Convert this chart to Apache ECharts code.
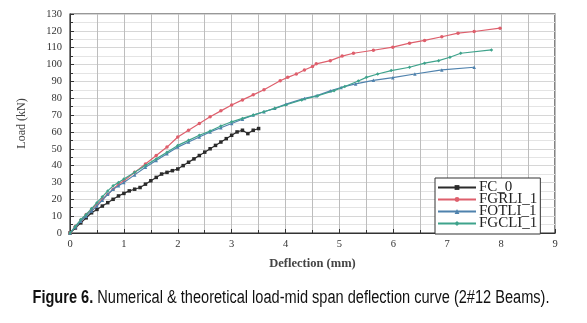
<!DOCTYPE html>
<html><head><meta charset="utf-8">
<script src="https://cdn.jsdelivr.net/npm/echarts@6/dist/echarts.min.js"></script>
<style>html,body{margin:0;padding:0;background:#fff}#c{width:587px;height:323px}</style>
</head><body><div id="c"></div>
<script>
const seriesNames = ["FC_0", "FGRLI_1", "FOTLI_1", "FGCLI_1"];
const xTicks = [0,1,2,3,4,5,6,7,8,9];
const yTicks = [0,10,20,30,40,50,60,70,80,90,100,110,120,130];

const fcX = [0,0.1,0.2,0.3,0.4,0.5,0.6,0.7,0.8,0.9,1.0,1.1,1.2,1.3,1.4,1.5,1.6,1.7,1.8,1.9,2.0,2.1,2.2,2.3,2.4,2.5,2.6,2.7,2.8,2.9,3.0,3.1,3.2,3.3,3.4,3.5];
const fcY = [0,3,6,9,12,14,16,18,20,22,23.5,25,26,27,29,31,33,35,36,37,38,40,42,44,46,48,50,52,54,56,58,60,61,59,61,62];

const grX = [0,0.1,0.2,0.3,0.4,0.5,0.6,0.7,0.8,0.9,1.0,1.2,1.4,1.6,1.8,2.0,2.2,2.4,2.6,2.8,3.0,3.2,3.4,3.6,3.9,4.04,4.2,4.35,4.5,4.57,4.83,5.05,5.26,5.63,5.99,6.3,6.58,6.9,7.2,7.5,7.98];
const grY = [0,4,7.5,11,14,17,20,23,26,29,31,36,41,46,51,57,61,65,69,72.5,76,79,82,85,90.4,92.4,94.4,96.8,98.8,100.4,102.3,105,106.7,108.5,110.3,112.7,114.3,116.5,118.6,119.6,121.6];

const otX = [0,0.1,0.2,0.3,0.4,0.5,0.6,0.7,0.8,0.9,1.0,1.2,1.4,1.6,1.8,2.0,2.2,2.4,2.6,2.8,3.0,3.2,3.4,3.6,3.8,4.01,4.35,4.57,4.83,5.03,5.3,5.63,5.99,6.4,6.9,7.5];
const otY = [0,3.5,7,10,13,16,19.5,23,26,28,30,34.5,39,43,47,51,54,57,60,62.5,65,67.5,70,72,74,76.5,79.9,81.4,84.4,86.4,88.5,90.6,92.2,94.4,96.8,98.4];

const gcX = [0,0.1,0.2,0.3,0.4,0.5,0.6,0.7,0.8,0.9,1.0,1.2,1.4,1.6,1.8,2.0,2.2,2.4,2.6,2.8,3.0,3.2,3.4,3.6,3.8,4.0,4.3,4.6,4.9,5.1,5.35,5.5,5.71,5.96,6.3,6.58,6.84,7.05,7.25,7.82];
const gcY = [0,4,8,11,14.5,18,21.5,25,28,30,32,36,40,44,48,52,55,58,60.5,63.5,66,68,70,72,74,76,79,81.5,84.5,87,90.2,92.4,94.4,96.4,98.4,100.8,102.3,104.3,106.7,108.7];

const captionBold = "Figure 6.";
const captionText = " Numerical & theoretical load-mid span deflection curve (2#12 Beams).";

const zip = (xs, ys) => xs.map((x, i) => [x, ys[i]]);
const colors = ["#2b2b2b", "#de5f6c", "#4f82ad", "#3fa38c"];
const symbols = ["rect", "circle", "triangle", "diamond"];
const dataSets = [zip(fcX, fcY), zip(grX, grY), zip(otX, otY), zip(gcX, gcY)];

const chart = echarts.init(document.getElementById('c'), null, {renderer: 'canvas'});
const serif = "'Liberation Serif','DejaVu Serif',serif";
const sans = "'Liberation Sans','DejaVu Sans',sans-serif";
chart.setOption({
  animation: false,
  backgroundColor: '#fff',
  graphic: [{
    type: 'text', x: 291, y: 298, scaleX: 0.81, scaleY: 1,
    style: {
      text: '{b|' + captionBold + '}{n|' + captionText + '}',
      align: 'center', verticalAlign: 'middle',
      rich: {
        b: {fontFamily: sans, fontWeight: 'bold', fontSize: 18, fill: '#111'},
        n: {fontFamily: sans, fontWeight: 'normal', fontSize: 18, fill: '#111'}
      }
    }
  }],
  grid: {left: 70, right: 32, top: 14, bottom: 90, show: true, borderColor: '#333', borderWidth: 1.2},
  legend: {
    left: 435, top: 178, orient: 'vertical', itemGap: -3,
    backgroundColor: '#fff', borderColor: '#333', borderWidth: 1, padding: [2, 3, 3, 2],
    itemWidth: 38, itemHeight: 6,
    textStyle: {fontFamily: serif, fontSize: 15, color: '#222', padding: [0,0,0,-2]},
    data: seriesNames
  },
  xAxis: {
    type: 'value', min: 0, max: 9, interval: 1,
    name: 'Deflection (mm)', nameLocation: 'middle', nameGap: 24,
    nameTextStyle: {fontFamily: serif, fontWeight: 'bold', fontSize: 12.5, color: '#444'},
    axisLine: {show: true, lineStyle: {color: '#333'}},
    axisTick: {show: true, inside: true, length: 4, lineStyle: {color: '#333'}},
    minorTick: {show: true, splitNumber: 2, length: 3, lineStyle: {color: '#333'}},
    axisLabel: {fontFamily: serif, fontSize: 10.5, color: '#333', margin: 6},
    splitLine: {show: true, lineStyle: {color: '#bdbdbd', width: 1}},
    minorSplitLine: {show: true, lineStyle: {color: '#bdbdbd', width: 1}}
  },
  yAxis: {
    type: 'value', min: 0, max: 130, interval: 10,
    name: 'Load (kN)', nameLocation: 'middle', nameGap: 42,
    nameTextStyle: {fontFamily: serif, fontSize: 12, color: '#444'},
    axisLine: {show: true, lineStyle: {color: '#333'}},
    axisTick: {show: true, inside: true, length: 4, lineStyle: {color: '#333'}},
    minorTick: {show: true, splitNumber: 2, length: 3, lineStyle: {color: '#333'}},
    axisLabel: {fontFamily: serif, fontSize: 10.5, color: '#333', margin: 8},
    splitLine: {show: true, lineStyle: {color: '#d6d6d6', width: 1}},
    minorSplitLine: {show: true, lineStyle: {color: '#e4e4e4', width: 1}}
  },
  series: seriesNames.map((n, i) => ({
    name: n, type: 'line', data: dataSets[i],
    symbol: symbols[i], symbolSize: 3.5, showSymbol: true,
    lineStyle: {color: colors[i], width: 1.2},
    itemStyle: {color: colors[i]},
    z: 2 + i
  }))
});
</script></body></html>
